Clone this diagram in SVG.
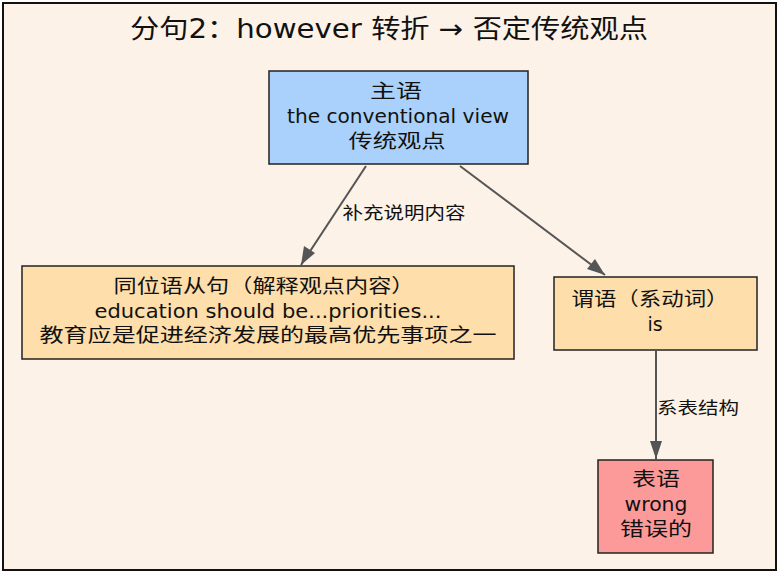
<svg xmlns="http://www.w3.org/2000/svg" width="781" height="574" viewBox="0 0 781 574">
<style>
text{font-family:"DejaVu Sans","Noto Sans CJK SC",sans-serif;fill:#111;text-anchor:middle}
.n{font-size:19px}
.l{font-size:17px}
.b{stroke:#222;stroke-width:1.5}
.e{stroke:#555;stroke-width:2;fill:none}
</style>
<rect x="3" y="3" width="773" height="567" fill="#fdf2e7" stroke="#111" stroke-width="2"/>
<text x="389" y="38" font-size="26" textLength="518" lengthAdjust="spacingAndGlyphs">分句2：however 转折 → 否定传统观点</text>
<g id="edges">
<line class="e" x1="366" y1="166" x2="301" y2="265"/>
<path d="M301,265 l3,-19 l11,7z" fill="#555"/>
<line class="e" x1="460" y1="166" x2="605" y2="275"/>
<path d="M605,275 l-18,-6 l8,-10z" fill="#555"/>
<line class="e" x1="656" y1="351" x2="656" y2="459"/>
<path d="M656,459 l-6,-18 l12,0z" fill="#555"/>
<text class="l" x="404" y="219" textLength="123" lengthAdjust="spacingAndGlyphs">补充说明内容</text>
<text class="l" x="698" y="414" textLength="82" lengthAdjust="spacingAndGlyphs">系表结构</text>
</g>
<g id="subject"><rect class="b" x="269" y="71" width="259" height="93" fill="#a9d1fb"/>
<text class="n" x="396" y="98" textLength="52" lengthAdjust="spacingAndGlyphs">主语</text><text class="n" x="398" y="123" textLength="222" lengthAdjust="spacingAndGlyphs">the conventional view</text><text class="n" x="397" y="148" textLength="97" lengthAdjust="spacingAndGlyphs">传统观点</text></g>
<g id="appositive"><rect class="b" x="22" y="266" width="492" height="93" fill="#fedeaa"/>
<text class="n" x="264" y="293" textLength="301" lengthAdjust="spacingAndGlyphs">同位语从句（解释观点内容）</text><text class="n" x="268" y="318" textLength="347" lengthAdjust="spacingAndGlyphs">education should be...priorities...</text><text class="n" x="268" y="342" textLength="457" lengthAdjust="spacingAndGlyphs">教育应是促进经济发展的最高优先事项之一</text></g>
<g id="predicate"><rect class="b" x="554" y="277" width="203" height="73" fill="#fedeaa"/>
<text class="n" x="650" y="306" textLength="157" lengthAdjust="spacingAndGlyphs">谓语（系动词）</text><text class="n" x="655" y="331">is</text></g>
<g id="complement"><rect class="b" x="598" y="460" width="115" height="93" fill="#fc9a9a"/>
<text class="n" x="656" y="486" textLength="48" lengthAdjust="spacingAndGlyphs">表语</text><text class="n" x="656" y="511" textLength="63" lengthAdjust="spacingAndGlyphs">wrong</text><text class="n" x="656" y="536" textLength="72" lengthAdjust="spacingAndGlyphs">错误的</text></g>
</svg>
